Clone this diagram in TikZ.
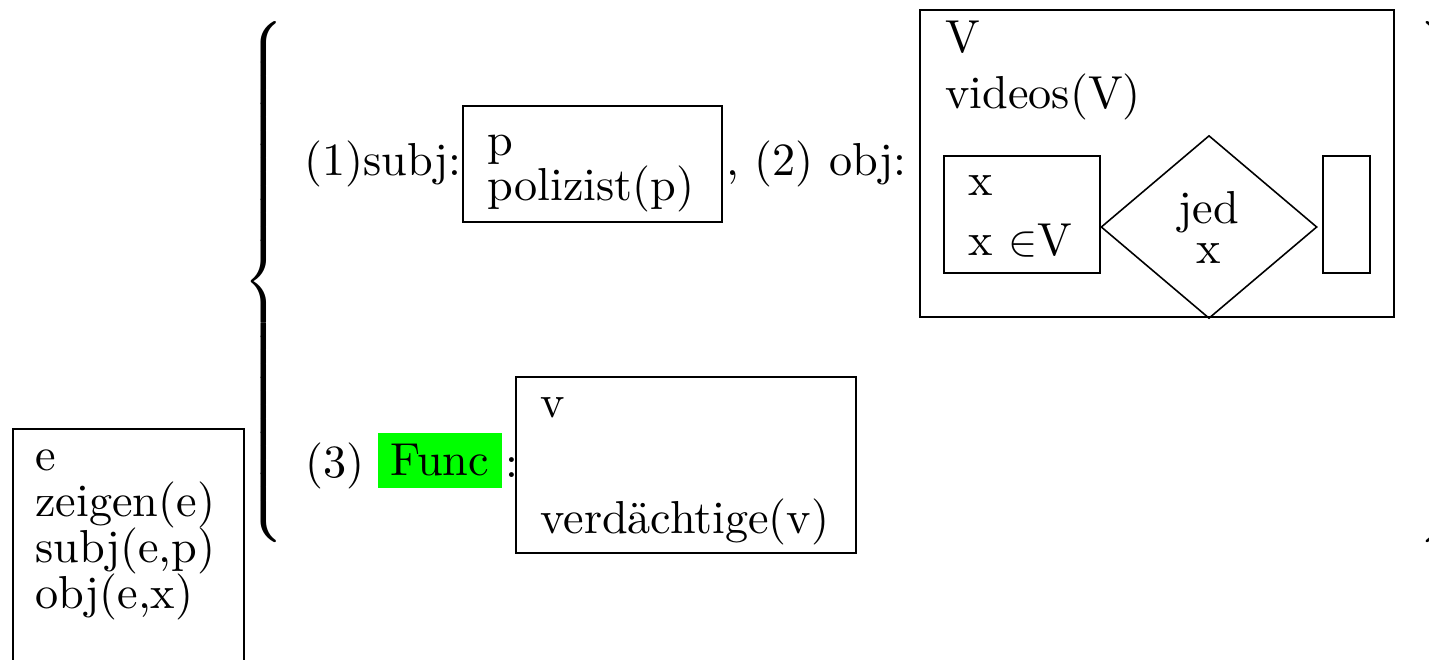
\documentclass[tikz,border=0pt]{standalone}
\usepackage{fontspec}
\setmainfont{lmroman10-regular.otf}
\usepackage{graphicx}
\usetikzlibrary{shapes.geometric}
\tikzset{
  drsbox/.style={draw, line width=0.9pt, inner sep=0pt, anchor=north west},
  drsline/.style={inner sep=0pt, anchor=base west},
  drsdiamond/.style={draw, diamond, line width=0.9pt, inner sep=0pt, align=center,
    font=\fontsize{26.3}{22.8}\selectfont}
}
\newcommand{\drsbrace}[2]{\scalebox{2.6}{\fontsize{10}{12}\selectfont$#1\vcenter{\hbox{\rule{0pt}{4.04cm}}}#2$}}

\begin{document}
\begin{tikzpicture}[x=0.02cm, y=-0.02cm, font=\fontsize{26.3}{30}\selectfont]
    \useasboundingbox (0,0) rectangle (1429,659);

    % Event box (left, runs off the bottom)
    \node[drsbox, minimum width=4.62cm, minimum height=5.4cm] (eventbox) at (12,428) {};
    \node[drsline] (ev1) at (35,470) {e};
    \node[drsline] (ev2) at (35,516) {zeigen(e)};
    \node[drsline] (ev3) at (35,562) {subj(e,p)};
    \node[drsline] (ev4) at (35,608) {obj(e,x)};

    % Braces
    \node[inner sep=0pt, anchor=east] (lbrace) at (290,282) {\drsbrace{\left\{}{\right.}};
    \node[inner sep=0pt, anchor=west] (rbrace) at (1413,282) {\drsbrace{\left.}{\right\}}};

    % (1) subject
    \node[drsline] (subjlabel) at (304,175) {(1)subj:};
    \node[drsbox, minimum width=5.18cm, minimum height=2.32cm] (subjbox) at (462,105) {};
    \node[drsline] (subjref) at (487,155) {p};
    \node[drsline] (subjcond) at (487,200) {polizist(p)};

    % (2) object
    \node[drsline] (objlabel) at (726,175) {, (2) obj:};
    \node[drsbox, minimum width=9.48cm, minimum height=6.14cm] (objbox) at (919,9) {};
    \node[drsline] (objref) at (945,52) {V};
    \node[drsline] (objcond) at (945,108) {videos(V)};
    \node[drsbox, minimum width=3.12cm, minimum height=2.34cm] (restrbox) at (943,155) {};
    \node[drsline] (restrref) at (968,195) {x};
    \node[drsline] (restrcond) at (968,255) {x $\in$V};
    \node[drsdiamond, minimum width=4.32cm, minimum height=3.66cm] (quant) at (1209,227) {jed\\x};
    \node[drsbox, minimum width=0.94cm, minimum height=2.34cm] (scopebox) at (1322,155) {};

    % (3) function
    \node[drsline] (funclabel) at (305,477) {(3)};
    \node[fill=green, inner sep=0pt, minimum width=2.48cm, minimum height=1.1cm] (func) at (440,460) {Func};
    \node[drsline] (funccolon) at (505,477) {:};
    \node[drsbox, minimum width=6.8cm, minimum height=3.52cm] (funcbox) at (515,376) {};
    \node[drsline] (funcref) at (540,417) {v};
    \node[drsline] (funccond) at (540,533) {verdächtige(v)};

\end{tikzpicture}
\end{document}
